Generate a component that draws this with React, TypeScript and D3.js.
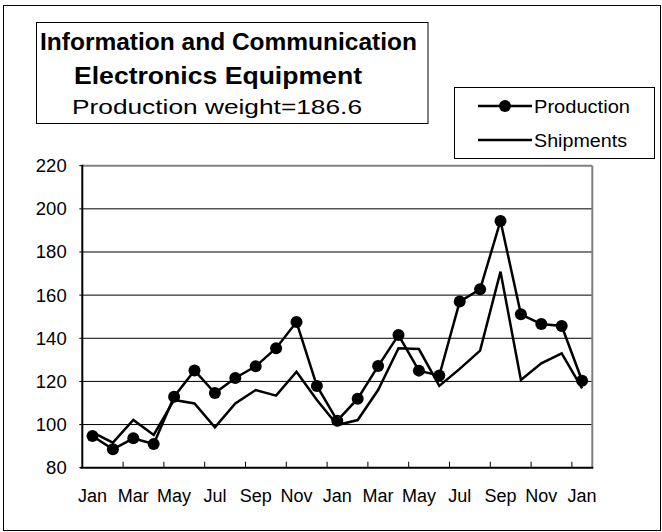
import React from "react";
import * as d3 from "d3";

const months = ["Jan", "Feb", "Mar", "Apr", "May", "Jun", "Jul", "Aug", "Sep", "Oct", "Nov", "Dec",
  "Jan", "Feb", "Mar", "Apr", "May", "Jun", "Jul", "Aug", "Sep", "Oct", "Nov", "Dec", "Jan"];

const production = [94.7, 88.5, 93.6, 91, 112.9, 125.1, 114.6, 121.6, 127, 135.4, 147.5, 117.9,
  101.8, 112, 127.1, 141.5, 125, 122.7, 157, 162.7, 194.4, 151.1, 146.6, 145.7, 120.3];

const shipments = [96.4, 91.6, 102.1, 95.2, 111.4, 109.8, 98.7, 109.8, 116, 113.4, 124.5, 111.4,
  99.8, 102.1, 116, 135.4, 135, 117.9, 125.8, 134.3, 170.9, 120.7, 128.4, 133, 116.8];

const yTicks = [80, 100, 120, 140, 160, 180, 200, 220];

const titleLines = ["Information and Communication", "Electronics Equipment", "Production weight=186.6"];

const font = "'Liberation Sans', Arial, sans-serif";

export default function App() {
  const width = 662;
  const height = 532;
  const plot = { left: 82.3, right: 592.3, top: 165.7, bottom: 467.7 };

  const x = d3
    .scaleBand<number>()
    .domain(d3.range(months.length))
    .range([plot.left, plot.right])
    .padding(0);
  const cx = (i: number) => (x(i) as number) + x.bandwidth() / 2;

  const y = d3.scaleLinear().domain([80, 220]).range([plot.bottom, plot.top]);

  const line = d3
    .line<number>()
    .x((_, i) => cx(i))
    .y((d) => y(d));

  // tick marks every second month boundary, labels every second month
  const tickIdx = d3.range(2, months.length, 2);
  const labelIdx = d3.range(0, months.length, 2);

  return (
    <svg
      width={width}
      height={height}
      style={{ position: "absolute", left: 0, top: 0, background: "#fff" }}
      fontFamily={font}
    >
      <rect x={3.5} y={5.5} width={657} height={525} fill="#fff" stroke="#000" strokeWidth={1} />

      {/* title box */}
      <rect x={36.5} y={22.5} width={391.5} height={101} fill="#fff" stroke="#000" strokeWidth={1} />
      <text x={40} y={50} fontSize={24} fontWeight="bold" textLength={377} lengthAdjust="spacingAndGlyphs">
        {titleLines[0]}
      </text>
      <text x={74} y={84} fontSize={24} fontWeight="bold" textLength={288} lengthAdjust="spacingAndGlyphs">
        {titleLines[1]}
      </text>
      <text x={72} y={114} fontSize={21} textLength={290} lengthAdjust="spacingAndGlyphs">
        {titleLines[2]}
      </text>

      {/* legend */}
      <rect x={454.5} y={87.5} width={200} height={71} fill="#fff" stroke="#000" strokeWidth={1} />
      <line x1={478} x2={532} y1={106} y2={106} stroke="#000" strokeWidth={2.5} />
      <circle cx={505} cy={106} r={6} fill="#000" />
      <text x={534} y={113} fontSize={18} textLength={96} lengthAdjust="spacingAndGlyphs">Production</text>
      <line x1={478} x2={532} y1={140} y2={140} stroke="#000" strokeWidth={2.5} />
      <text x={534} y={147} fontSize={18} textLength={93} lengthAdjust="spacingAndGlyphs">Shipments</text>

      {/* gridlines */}
      {yTicks.slice(1, -1).map((t) => (
        <line key={t} x1={plot.left} x2={plot.right} y1={y(t)} y2={y(t)} stroke="#000" strokeWidth={1} />
      ))}

      {/* frame: gray top/right, black axes */}
      <line x1={plot.left} x2={plot.right} y1={plot.top} y2={plot.top} stroke="#808080" strokeWidth={2} />
      <line x1={plot.right} x2={plot.right} y1={plot.top} y2={plot.bottom} stroke="#808080" strokeWidth={2} />
      <line x1={plot.left} x2={plot.left} y1={plot.top - 1} y2={plot.bottom} stroke="#000" strokeWidth={2} />
      <line x1={plot.left - 2} x2={plot.right + 1} y1={plot.bottom} y2={plot.bottom} stroke="#000" strokeWidth={2} />

      {yTicks.map((t) => (
        <g key={t}>
          <line x1={plot.left - 3} x2={plot.left} y1={y(t)} y2={y(t)} stroke="#000" strokeWidth={1} />
          <text x={66.7} y={y(t) + 6.5} fontSize={18.5} textAnchor="end">
            {t}
          </text>
        </g>
      ))}

      {tickIdx.map((i) => (
        <line
          key={i}
          x1={x(i) as number}
          x2={x(i) as number}
          y1={plot.bottom}
          y2={plot.bottom - 6}
          stroke="#000"
          strokeWidth={1}
        />
      ))}
      {labelIdx.map((i) => (
        <text key={i} x={cx(i)} y={501.7} fontSize={18} textAnchor="middle">
          {months[i]}
        </text>
      ))}

      {/* series */}
      <path d={line(shipments) ?? ""} fill="none" stroke="#000" strokeWidth={2.5} strokeLinejoin="miter" />
      <path d={line(production) ?? ""} fill="none" stroke="#000" strokeWidth={2.5} />
      {production.map((d, i) => (
        <circle key={i} cx={cx(i)} cy={y(d)} r={6} fill="#000" />
      ))}
    </svg>
  );
}
